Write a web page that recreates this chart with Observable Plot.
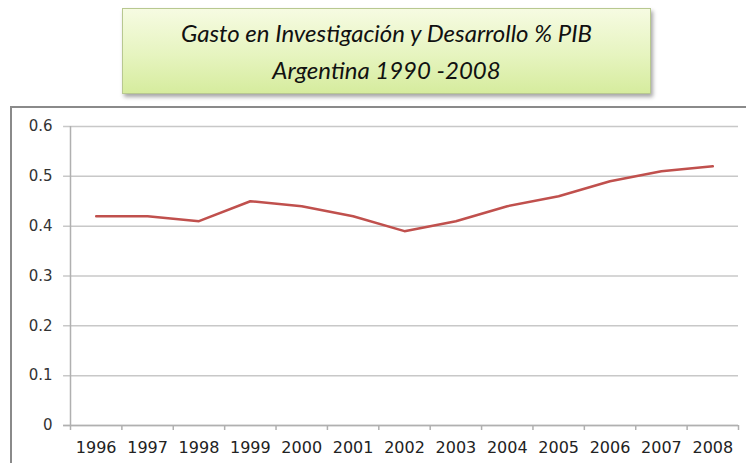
<!DOCTYPE html>
<html>
<head>
<meta charset="utf-8">
<script src="https://cdn.jsdelivr.net/npm/d3@7"></script>
<script src="https://cdn.jsdelivr.net/npm/@observablehq/plot@0.6"></script>
<style>
  html, body { margin: 0; padding: 0; background: #fff; }
  #wrap { position: relative; width: 746px; height: 463px; overflow: hidden; background: #fff; }
  #frame { position: absolute; left: 10px; top: 106px; width: 800px; height: 400px;
           border-left: 2px solid #8a8a8a; border-top: 2px solid #8a8a8a; box-sizing: border-box; }
  #title { position: absolute; left: 122px; top: 8px; width: 529px; height: 86px; box-sizing: border-box;
           border: 1px solid #b8c890;
           background: linear-gradient(to bottom, #f6fbe2 0%, #e6f4bf 55%, #d6ec9e 100%);
           box-shadow: 2px 3px 4px rgba(0,0,0,0.35);
           font-family: Lato, "Open Sans", sans-serif; font-style: italic; font-size: 24px; color: #111;
           text-align: center; line-height: 37px; padding-top: 5px; }
  #chart { position: absolute; left: 0; top: 107px; }
</style>
</head>
<body>
<div id="wrap">
  <div id="frame"></div>
  <div id="title">Gasto en Investigación y Desarrollo % PIB<br>Argentina 1990 -2008</div>
  <div id="chart"></div>
</div>
<script>
const years = [1996, 1997, 1998, 1999, 2000, 2001, 2002, 2003, 2004, 2005, 2006, 2007, 2008];
const values = [0.42, 0.42, 0.41, 0.45, 0.44, 0.42, 0.39, 0.41, 0.44, 0.46, 0.49, 0.51, 0.52];
const yTicks = [0, 0.1, 0.2, 0.3, 0.4, 0.5, 0.6];

const data = years.map((y, i) => ({year: y, value: values[i]}));
const x0 = years[0] - 0.5;
const x1 = years[years.length - 1] + 0.5;
const edges = years.map(y => y - 0.5).concat([x1]);

const chart = Plot.plot({
  width: 746,
  height: 356,
  marginLeft: 70,
  marginRight: 8,
  marginTop: 19,
  marginBottom: 38,
  style: { fontFamily: "'DejaVu Sans', sans-serif", fontSize: "16px", color: "#333", background: "transparent" },
  x: { domain: [x0, x1], axis: null, label: null },
  y: { domain: [0, 0.6], axis: null, label: null },
  marks: [
    Plot.ruleY(yTicks, { y: d => d, x1: x0 - 0.135, x2: x1, stroke: "#c8c8c8", strokeWidth: 1.5 }),
    Plot.ruleX([x0], { y1: 0, y2: 0.6, stroke: "#b0b0b0", strokeWidth: 1.5 }),
    Plot.ruleY([0], { x1: x0 - 0.135, x2: x1, stroke: "#b0b0b0", strokeWidth: 1.5 }),
    Plot.ruleX(edges, { x: d => d, y1: 0, y2: -0.01, stroke: "#b0b0b0", strokeWidth: 1.5 }),
    Plot.text(yTicks, { x: x0, y: d => d, text: d => d === 0 ? "0" : d.toFixed(1), textAnchor: "end", dx: -18, fill: "#333", fontSize: 15, fontFamily: "'DejaVu Sans', sans-serif" }),
    Plot.text(years, { x: d => d, y: 0, text: d => String(d), dy: 22, fill: "#222", fontSize: 16, fontFamily: "'DejaVu Sans', sans-serif" }),
    Plot.line(data, { x: "year", y: "value", stroke: "#c0504d", strokeWidth: 2.5 })
  ]
});
document.getElementById("chart").appendChild(chart);
</script>
</body>
</html>
